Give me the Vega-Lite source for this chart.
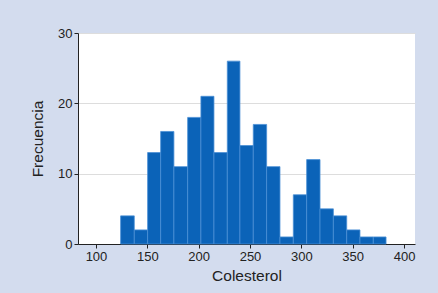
{
  "$schema": "https://vega.github.io/schema/vega-lite/v6.json",
  "width": 337,
  "height": 211,
  "autosize": {"type": "none"},
  "padding": {"left": 78, "top": 33, "right": 23, "bottom": 49},
  "background": "#d3dcee",
  "config": {
    "font": "Liberation Sans",
    "view": {"fill": "white", "stroke": null}
  },
  "data": {
    "values": [
      {"start": 124.0, "end": 137.3, "count": 4},
      {"start": 137.3, "end": 150.3, "count": 2},
      {"start": 150.3, "end": 163.0, "count": 13},
      {"start": 163.0, "end": 175.9, "count": 16},
      {"start": 175.9, "end": 189.3, "count": 11},
      {"start": 189.3, "end": 202.2, "count": 18},
      {"start": 202.2, "end": 214.9, "count": 21},
      {"start": 214.9, "end": 227.9, "count": 13},
      {"start": 227.9, "end": 240.2, "count": 26},
      {"start": 240.2, "end": 253.2, "count": 14},
      {"start": 253.2, "end": 266.2, "count": 17},
      {"start": 266.2, "end": 279.2, "count": 11},
      {"start": 279.2, "end": 292.2, "count": 1},
      {"start": 292.2, "end": 305.2, "count": 7},
      {"start": 305.2, "end": 318.2, "count": 12},
      {"start": 318.2, "end": 331.2, "count": 5},
      {"start": 331.2, "end": 344.2, "count": 4},
      {"start": 344.2, "end": 357.1, "count": 2},
      {"start": 357.1, "end": 370.1, "count": 1},
      {"start": 370.1, "end": 382.5, "count": 1}
    ]
  },
  "mark": {"type": "rect", "color": "#0b63b8", "stroke": "#4a8fd6", "strokeWidth": 0.8},
  "encoding": {
    "x": {
      "field": "start",
      "type": "quantitative",
      "scale": {"domain": [82.5, 410.7], "nice": false, "zero": false},
      "axis": {
        "title": "Colesterol",
        "values": [100, 150, 200, 250, 300, 350, 400],
        "grid": false,
        "domainColor": "#222",
        "tickColor": "#222",
        "tickSize": 4,
        "labelFontSize": 13,
        "labelColor": "#222",
        "labelPadding": 2,
        "titleFontSize": 15.5,
        "titleFontWeight": "normal",
        "titleColor": "#222",
        "titlePadding": 5
      }
    },
    "x2": {"field": "end"},
    "y": {
      "field": "count",
      "type": "quantitative",
      "scale": {"domain": [0, 30], "nice": false},
      "axis": {
        "title": "Frecuencia",
        "values": [0, 10, 20, 30],
        "grid": true,
        "gridColor": "#dddddd",
        "domainColor": "#222",
        "tickColor": "#222",
        "tickSize": 4,
        "labelFontSize": 13,
        "labelColor": "#222",
        "labelPadding": 2,
        "titleFontSize": 15.5,
        "titleFontWeight": "normal",
        "titleColor": "#222",
        "titlePadding": 12
      }
    },
    "y2": {"datum": 0}
  }
}
